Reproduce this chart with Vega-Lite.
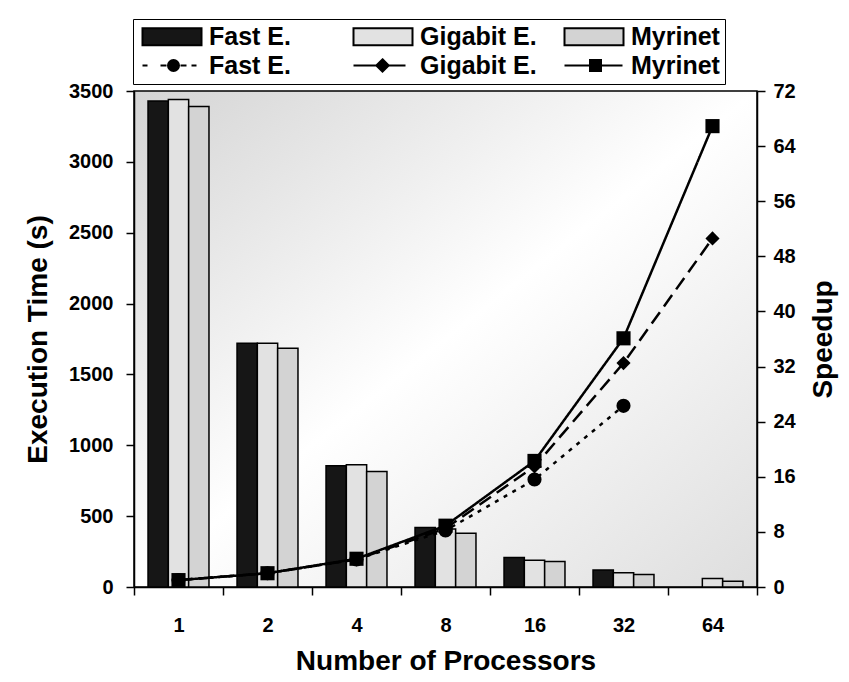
{
  "$schema": "https://vega.github.io/schema/vega-lite/v6.json",
  "width": 623,
  "height": 496,
  "autosize": {"type": "none"},
  "padding": {"left": 134, "top": 91, "right": 92, "bottom": 95},
  "background": "white",
  "datasets": {
    "times": [
      {"procs": 1, "network": "Fast E.", "time": 3430},
      {"procs": 1, "network": "Gigabit E.", "time": 3440},
      {"procs": 1, "network": "Myrinet", "time": 3390},
      {"procs": 2, "network": "Fast E.", "time": 1720},
      {"procs": 2, "network": "Gigabit E.", "time": 1720},
      {"procs": 2, "network": "Myrinet", "time": 1685},
      {"procs": 4, "network": "Fast E.", "time": 855},
      {"procs": 4, "network": "Gigabit E.", "time": 862},
      {"procs": 4, "network": "Myrinet", "time": 815},
      {"procs": 8, "network": "Fast E.", "time": 420},
      {"procs": 8, "network": "Gigabit E.", "time": 410},
      {"procs": 8, "network": "Myrinet", "time": 380},
      {"procs": 16, "network": "Fast E.", "time": 209},
      {"procs": 16, "network": "Gigabit E.", "time": 189},
      {"procs": 16, "network": "Myrinet", "time": 180},
      {"procs": 32, "network": "Fast E.", "time": 120},
      {"procs": 32, "network": "Gigabit E.", "time": 101},
      {"procs": 32, "network": "Myrinet", "time": 89},
      {"procs": 64, "network": "Gigabit E.", "time": 60},
      {"procs": 64, "network": "Myrinet", "time": 41}
    ],
    "speedups": [
      {"procs": 1, "series": "Fast E.", "speedup": 1},
      {"procs": 2, "series": "Fast E.", "speedup": 2},
      {"procs": 4, "series": "Fast E.", "speedup": 4},
      {"procs": 8, "series": "Fast E.", "speedup": 8.2},
      {"procs": 16, "series": "Fast E.", "speedup": 15.6},
      {"procs": 32, "series": "Fast E.", "speedup": 26.3},
      {"procs": 1, "series": "Gigabit E.", "speedup": 1},
      {"procs": 2, "series": "Gigabit E.", "speedup": 2},
      {"procs": 4, "series": "Gigabit E.", "speedup": 4},
      {"procs": 8, "series": "Gigabit E.", "speedup": 8.5},
      {"procs": 16, "series": "Gigabit E.", "speedup": 17.5},
      {"procs": 32, "series": "Gigabit E.", "speedup": 32.5},
      {"procs": 64, "series": "Gigabit E.", "speedup": 50.6},
      {"procs": 1, "series": "Myrinet", "speedup": 1},
      {"procs": 2, "series": "Myrinet", "speedup": 2},
      {"procs": 4, "series": "Myrinet", "speedup": 4.1},
      {"procs": 8, "series": "Myrinet", "speedup": 8.9},
      {"procs": 16, "series": "Myrinet", "speedup": 18.3},
      {"procs": 32, "series": "Myrinet", "speedup": 36.1},
      {"procs": 64, "series": "Myrinet", "speedup": 66.9}
    ]
  },
  "layer": [
    {
      "data": {"name": "times"},
      "mark": {"type": "bar", "stroke": "black", "strokeWidth": 1.5},
      "encoding": {
        "x": {
          "field": "procs",
          "type": "ordinal",
          "scale": {"domain": [1, 2, 4, 8, 16, 32, 64], "paddingInner": 0, "paddingOuter": 0},
          "axis": {"title": "Number of Processors", "labelAngle": 0, "tickBand": "extent", "labelPadding": 20, "titlePadding": 12}
        },
        "xOffset": {
          "field": "network",
          "type": "nominal",
          "scale": {"domain": ["Fast E.", "Gigabit E.", "Myrinet"], "paddingInner": 0, "paddingOuter": 0.69}
        },
        "y": {
          "field": "time",
          "type": "quantitative",
          "scale": {"domain": [0, 3500], "nice": false},
          "axis": {"title": "Execution Time (s)", "format": "d", "values": [0, 500, 1000, 1500, 2000, 2500, 3000, 3500], "labelPadding": 13, "titlePadding": 16}
        },
        "fill": {
          "field": "network",
          "type": "nominal",
          "scale": {
            "domain": ["Fast E.", "Gigabit E.", "Myrinet", "Fast E. speedup", "Gigabit E. speedup", "Myrinet speedup"],
            "range": ["#161616", "#e2e2e2", "#d3d3d3", "black", "black", "black"]
          },
          "legend": {
            "orient": "none",
            "legendX": -1,
            "legendY": -72,
            "direction": "horizontal",
            "columns": 3,
            "title": null,
            "symbolType": "square",
            "symbolSize": 400,
            "symbolStrokeColor": "black",
            "symbolStrokeWidth": 2,
            "symbolOpacity": 1,
            "labelFont": "Liberation Sans",
            "labelFontSize": 25,
            "labelFontWeight": "bold",
            "labelColor": "black",
            "labelOffset": 46,
            "labelLimit": 300,
            "columnPadding": 23,
            "rowPadding": 3,
            "gridAlign": "all",
            "padding": 5,
            "strokeColor": "black",
            "fillColor": "white",
            "labelExpr": "replace(datum.label, ' speedup', '')",
            "encode": {
              "symbols": {
                "update": {
                  "shape": {"signal": "datum.value === 'Fast E. speedup' ? 'M-0.8,0H-0.3M1,0H1.6M3,0H3.6M4.1,0H4.6M1.75,0A0.55,0.55,0,1,0,2.85,0A0.55,0.55,0,1,0,1.75,0Z' : datum.value === 'Gigabit E. speedup' ? 'M-0.8,0H4.4M2.1,-0.62L2.72,0L2.1,0.62L1.48,0Z' : datum.value === 'Myrinet speedup' ? 'M-0.8,0H5M1.75,-0.55H2.85V0.55H1.75Z' : 'M-0.8,-0.85H5.1V0.85H-0.8Z'"}
                }
              }
            }
          }
        }
      }
    },
    {
      "data": {"name": "speedups"},
      "encoding": {
        "x": {"field": "procs", "type": "ordinal"},
        "y": {
          "field": "speedup",
          "type": "quantitative",
          "scale": {"domain": [0, 72], "nice": false},
          "axis": {"orient": "right", "title": "Speedup", "values": [0, 8, 16, 24, 32, 40, 48, 56, 64, 72], "labelPadding": 8, "titlePadding": 14, "titleAngle": 270, "titleBaseline": "top"}
        }
      },
      "layer": [
        {
          "mark": {"type": "line", "color": "black", "strokeWidth": 2.5},
          "encoding": {
            "strokeDash": {
              "field": "series",
              "type": "nominal",
              "scale": {"domain": ["Fast E.", "Gigabit E.", "Myrinet"], "range": [[4, 6], [14, 7], [1, 0]]},
              "legend": null
            }
          }
        },
        {
          "mark": {"type": "point", "filled": true, "color": "black", "opacity": 1, "size": 200},
          "encoding": {
            "shape": {
              "field": "series",
              "type": "nominal",
              "scale": {"domain": ["Fast E.", "Gigabit E.", "Myrinet"], "range": ["circle", "diamond", "square"]},
              "legend": null
            }
          }
        }
      ]
    }
  ],
  "resolve": {"scale": {"y": "independent"}},
  "config": {
    "view": {
      "stroke": "black",
      "strokeWidth": 1.5,
      "fill": {
        "gradient": "linear",
        "x1": 0, "y1": 0, "x2": 1, "y2": 1,
        "stops": [
          {"offset": 0, "color": "#d4d4d4"},
          {"offset": 0.5, "color": "#ffffff"},
          {"offset": 1, "color": "#dedede"}
        ]
      }
    },
    "axis": {
      "labelFont": "Liberation Sans",
      "labelFontWeight": "bold",
      "labelFontSize": 20,
      "labelColor": "black",
      "titleFont": "Liberation Sans",
      "titleFontWeight": "bold",
      "titleFontSize": 28,
      "titleColor": "black",
      "domainColor": "black",
      "domainWidth": 1.5,
      "tickColor": "black",
      "tickWidth": 1.5,
      "tickSize": 8,
      "grid": false
    }
  }
}
